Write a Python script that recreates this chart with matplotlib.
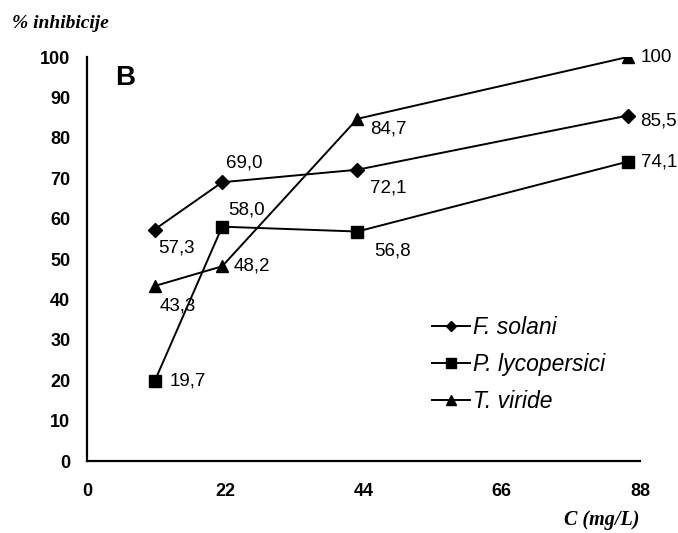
import matplotlib.pyplot as plt
import numpy as np

plt.rcParams['font.family'] = ['Liberation Sans', 'DejaVu Sans']

# data
conc = [11, 22, 44, 88]
f_solani = [57.3, 69.0, 72.1, 85.5]
p_lycopersici = [19.7, 58.0, 56.8, 74.1]
t_viride = [43.3, 48.2, 84.7, 100]
series_names = ['F. solani', 'P. lycopersici', 'T. viride']
x_tick_labels = [0, 22, 44, 66, 88]
y_ticks = [0, 10, 20, 30, 40, 50, 60, 70, 80, 90, 100]


def fmt(v):
    if v == int(v) and v >= 100:
        return str(int(v))
    return f'{v:.1f}'.replace('.', ',')


fig = plt.figure(figsize=(6.78, 5.33), dpi=100)
ax = fig.add_axes([87 / 678, 72 / 533, 553 / 678, 404 / 533])

series = [f_solani, p_lycopersici, t_viride]
markers = ['D', 's', '^']
msizes = [7, 8.5, 9]
# label offsets in pixels (right, down) for each point
offsets = [
    [(4, 18), (4, -19), (13, 18), (12, 5)],
    [(15, 0), (6, -17), (17, 19), (13, 0)],
    [(5, 20), (11, 0), (13, 10), (13, 0)],
]

for vals, name, m, ms, offs in zip(series, series_names, markers, msizes, offsets):
    ax.plot(conc, vals, color='black', lw=1.4, marker=m, ms=ms, label=name)
    for x, y, (dx, dy) in zip(conc, vals, offs):
        ax.annotate(fmt(y), (x, y), xytext=(dx * 0.72, -dy * 0.72),
                    textcoords='offset points', ha='left', va='center',
                    fontsize=13.5)

ax.set_xlim(0, 90)
ax.set_ylim(0, 100)
ax.set_xticks(np.array(x_tick_labels) * 90 / 88, [str(t) for t in x_tick_labels])
ax.set_yticks(y_ticks)
ax.tick_params(length=0, labelsize=13)
ax.tick_params(axis='y', pad=12)
ax.tick_params(axis='x', pad=16)
for lab in ax.get_xticklabels() + ax.get_yticklabels():
    lab.set_fontweight('bold')

for side in ['top', 'right']:
    ax.spines[side].set_visible(False)
for side in ['left', 'bottom']:
    ax.spines[side].set_linewidth(1.6)

ax.legend(loc='upper left', bbox_to_anchor=(0.624, 0.36),
          frameon=False, prop={'style': 'italic', 'size': 16.5},
          handlelength=1.65, handletextpad=0.15, labelspacing=0.62,
          markerscale=0.8, borderaxespad=0, borderpad=0)

fig.text(115 / 678, 1 - 78 / 533, 'B', fontsize=20, fontweight='bold',
         ha='left', va='center')
fig.text(12 / 678, 1 - 24 / 533, '% inhibicije', family='Liberation Serif',
         style='italic', fontweight='bold', fontsize=14, ha='left', va='center')
fig.text(602 / 678, 1 - 520 / 533, 'C (mg/L)', family='Liberation Serif',
         style='italic', fontweight='bold', fontsize=14.5, ha='center', va='center')

fig.savefig('out.png', dpi=100)
